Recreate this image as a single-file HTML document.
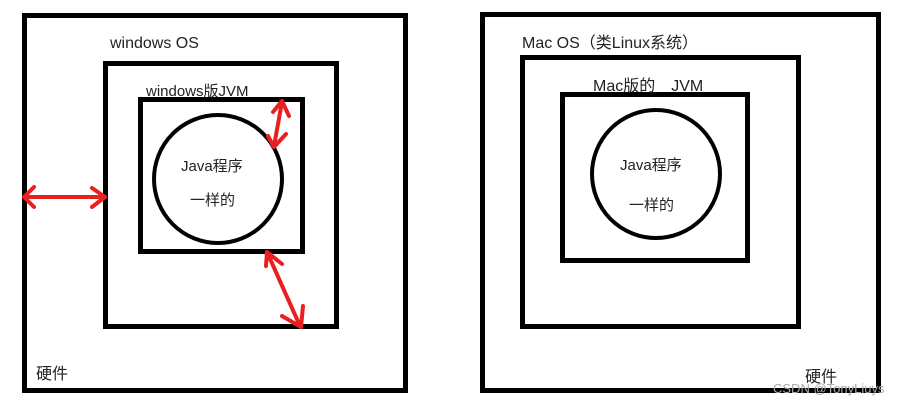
<!DOCTYPE html>
<html><head><meta charset="utf-8"><style>
body{margin:0;width:907px;height:406px;background:#fff;overflow:hidden}
svg text{font-family:"Liberation Sans","Noto Sans CJK SC",sans-serif;fill:#222;font-size:16px}
</style></head><body>
<svg width="907" height="406" xmlns="http://www.w3.org/2000/svg">
<g fill="none" stroke="#000" stroke-width="5">
<rect x="24.5" y="15.5" width="381" height="375"/>
<rect x="105.5" y="63.5" width="231" height="263"/>
<rect x="140.5" y="99.5" width="162" height="152"/>
<circle cx="218" cy="179" r="64" stroke-width="4"/>
<rect x="482.5" y="14.5" width="396" height="376"/>
<rect x="522.5" y="57.5" width="276" height="269"/>
<rect x="562.5" y="94.5" width="185" height="166"/>
<circle cx="656" cy="174" r="64" stroke-width="4"/>
</g>
<g fill="none" stroke="#e82020" stroke-width="4" stroke-linecap="round" stroke-linejoin="round">
<line x1="24" y1="197" x2="105" y2="197"/>
<polyline points="34,187 24,197 34,207"/>
<polyline points="92,188 105,197 92,207"/>
<line x1="282" y1="102" x2="274" y2="146"/>
<polyline points="273,112 282,101 289,116"/>
<polyline points="268,136 274,147 286,134"/>
<line x1="267" y1="252" x2="300" y2="326"/>
<polyline points="266,266 267,252 282,264"/>
<polyline points="282,316 301,327 303,306"/>
</g>
<text x="110" y="48">windows OS</text>
<text x="146" y="96" style="font-size:15px">windows版JVM</text>
<text x="181" y="171" style="font-size:15px">Java程序</text>
<text x="190" y="205" style="font-size:15px">一样的</text>
<text x="36" y="379">硬件</text>
<text x="522" y="48">Mac OS（类Linux系统）</text>
<text x="593" y="91">Mac版的　JVM</text>
<text x="620" y="170" style="font-size:15px">Java程序</text>
<text x="629" y="210" style="font-size:15px">一样的</text>
<text x="805" y="382">硬件</text>
<text x="773" y="393" style="fill:#aaa;font-size:13px">CSDN @TonyLiuys</text>
</svg>
</body></html>
